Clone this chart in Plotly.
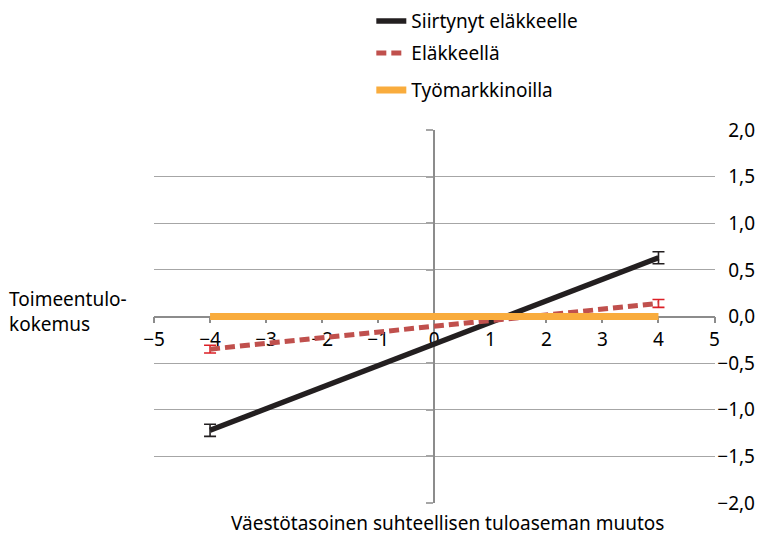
import plotly.graph_objects as go

# ---- data ----
x_vals = [-4, 4]
siirtynyt = [-1.22, 0.63]
siirtynyt_err = [0.065, 0.065]
elakkeella = [-0.35, 0.14]
elakkeella_err = [0.042, 0.042]
tyomarkkinoilla = [0.0, 0.0]

names = ["Siirtynyt eläkkeelle", "Eläkkeellä", "Työmarkkinoilla"]
x_ticks = [-5, -4, -3, -2, -1, 0, 1, 2, 3, 4, 5]
y_ticks = [-2.0, -1.5, -1.0, -0.5, 0.0, 0.5, 1.0, 1.5, 2.0]
y_title_lines = ["Toimeentulo-", "kokemus"]
x_title = "Väestötasoinen suhteellisen tuloaseman muutos"

FONT = "Noto Sans"
FS = 19
OFF = 8  # browser body margin
W, H = 766, 543
ML = 153.5 - OFF
MT = 130 - OFF
MB = H - (503.3 - OFF)
MR = 19
plot_w = W - ML - MR
plot_h = H - MT - MB
x_dom_end = (714.5 - OFF - ML) / plot_w

def py(px):  # reference pixel y -> paper y
    return (H - MB - (px - OFF)) / plot_h

def pxp(px):  # reference pixel x -> paper x
    return ((px - OFF) - ML) / plot_w

fig = go.Figure()

fig.add_trace(go.Scatter(
    x=x_vals, y=siirtynyt, mode="lines", name=names[0],
    line=dict(color="#231f20", width=5.5),
    error_y=dict(type="data", array=siirtynyt_err, color="#231f20", thickness=1.6, width=6),
    legend="legend",
))
fig.add_trace(go.Scatter(
    x=x_vals, y=elakkeella, mode="lines", name=names[1],
    line=dict(color="#c0504d", width=5, dash="10px,5px"),
    error_y=dict(type="data", array=elakkeella_err, color="#dc1f26", thickness=1.6, width=6),
    legend="legend2",
))
fig.add_trace(go.Scatter(
    x=x_vals, y=tyomarkkinoilla, mode="lines", name=names[2],
    line=dict(color="#f9ac3d", width=7),
    yaxis="y2",
    legend="legend3",
))

tick_text_y = [f"{v:.1f}".replace(".", ",").replace("-", "\u2212") for v in y_ticks]
tick_text_x = [str(v).replace("-", "\u2212") for v in x_ticks]

leg_common = dict(xref="paper", yref="paper", xanchor="left", yanchor="middle",
                  bgcolor="rgba(0,0,0,0)", font=dict(size=FS))

annotations = [
    dict(text=x_title,
         x=pxp(447), y=py(523), xref="paper", yref="paper",
         xanchor="center", yanchor="middle", showarrow=False,
         font=dict(size=FS)),
    dict(text="<br>".join(y_title_lines), x=pxp(6), y=py(312),
         xref="paper", yref="paper", xanchor="left", yanchor="middle",
         align="left", showarrow=False, font=dict(size=FS)),
]

fig.update_layout(
    width=W, height=H,
    margin=dict(l=ML, r=MR, t=MT, b=MB, autoexpand=False),
    paper_bgcolor="white", plot_bgcolor="white",
    font=dict(family=FONT, size=FS, color="#000000"),
    xaxis=dict(
        domain=[0, x_dom_end], range=[-5, 5],
        anchor="free", position=0.5, automargin=False, layer="below traces",
        tickvals=x_ticks, ticktext=tick_text_x,
        ticks="outside", ticklen=6, tickwidth=1.5, tickcolor="#8c8c8c",
        showline=True, linecolor="#8c8c8c", linewidth=1.5,
        showgrid=False, zeroline=False,
        tickfont=dict(size=FS),
    ),
    yaxis=dict(
        range=[-2, 2], anchor="free", position=1.0, side="left", automargin=False,
        tickvals=y_ticks, ticktext=tick_text_y,
        ticks="", showline=False, layer="below traces",
        showgrid=True, gridcolor="#a6a6a6", gridwidth=1,
        zeroline=False, tickfont=dict(size=FS),
    ),
    yaxis2=dict(
        range=[-2, 2], overlaying="y", anchor="free", position=x_dom_end / 2,
        side="left", tickvals=y_ticks, showticklabels=False, automargin=False,
        ticks="outside", ticklen=7, tickwidth=1.5, tickcolor="#a6a6a6",
        showline=True, linecolor="#8c8c8c", linewidth=2, layer="below traces",
        showgrid=False, zeroline=False,
    ),
    showlegend=True,
    legend=dict(x=pxp(371), y=py(21), **leg_common),
    legend2=dict(x=pxp(371), y=py(53), **leg_common),
    legend3=dict(x=pxp(371), y=py(90), **leg_common),
    annotations=annotations,
)

fig.write_html("out.html")
